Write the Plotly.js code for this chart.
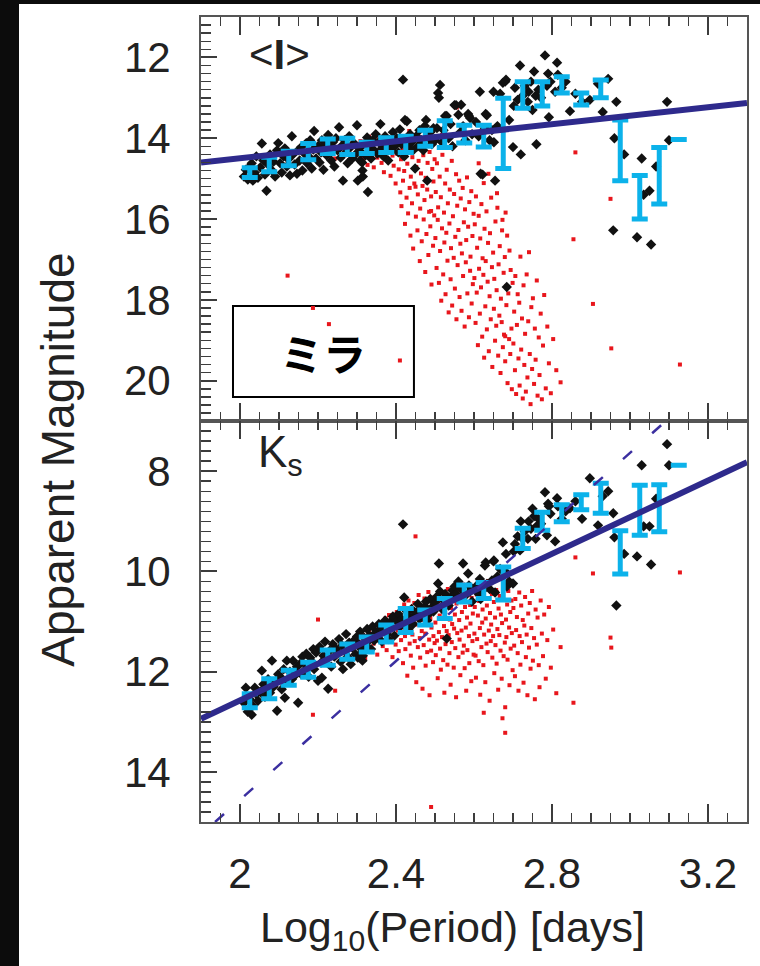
<!DOCTYPE html>
<html><head><meta charset="utf-8">
<script src="https://cdn.plot.ly/plotly-3.0.1.min.js"></script>
<style>
html,body{margin:0;padding:0;background:#0c0c0c;width:760px;height:966px;overflow:hidden}
#chart{position:absolute;left:19px;top:4px;width:741px;height:962px;background:#fff}
</style></head><body><div id="chart"></div>
<script>
// ---- binned means (cyan error bars) ----
const binLogP = [2.025,2.075,2.125,2.175,2.225,2.275,2.325,2.375,2.425,2.475,2.525,2.575,2.625,2.675,2.725,2.775,2.825,2.875,2.925,2.975,3.025,3.075,3.125];
const binI    = [14.85,14.65,14.50,14.33,14.20,14.20,14.24,14.17,14.15,14.00,13.90,13.90,13.95,13.88,12.93,12.90,12.68,13.03,12.78,14.30,15.46,14.93,14.03];
const binIerr = [0.12,0.18,0.18,0.20,0.18,0.20,0.14,0.18,0.20,0.20,0.33,0.22,0.27,0.87,0.33,0.30,0.20,0.15,0.22,0.75,0.54,0.70,0];
const binK    = [12.58,12.34,12.12,11.96,11.72,11.60,11.46,11.24,10.98,10.92,10.74,10.44,10.38,10.24,9.34,9.00,8.84,8.62,8.54,9.62,8.78,8.74,7.88];
const binKerr = [0.14,0.20,0.15,0.15,0.15,0.15,0.15,0.17,0.24,0.15,0.20,0.17,0.16,0.33,0.20,0.18,0.17,0.15,0.30,0.43,0.50,0.47,0];

// ---- fitted relations ----
const fitLogP = [1.9, 3.3];
const fitI    = [14.60, 13.13];
const fitK    = [12.94, 7.82];
const steepLogP = [1.936, 3.2];
const steepK    = [15.0, 6.25];

// ---- black stars ----
const blackLogP = [2.010,2.015,2.020,2.025,2.030,2.033,2.038,2.042,2.046,2.052,
 2.056,2.060,2.064,2.068,2.072,2.077,2.082,2.086,2.090,2.095,
 2.098,2.103,2.107,2.112,2.115,2.120,2.124,2.128,2.133,2.136,
 2.140,2.146,2.149,2.153,2.157,2.160,2.165,2.170,2.172,2.176,
 2.180,2.184,2.188,2.190,2.195,2.200,2.204,2.208,2.210,2.214,
 2.218,2.222,2.226,2.230,2.234,2.238,2.242,2.246,2.250,2.254,
 2.258,2.262,2.264,2.268,2.272,2.276,2.280,2.284,2.288,2.292,
 2.296,2.300,2.302,2.305,2.308,2.311,2.313,2.314,2.315,2.318,
 2.322,2.326,2.328,2.332,2.336,2.340,2.344,2.348,2.352,2.356,
 2.360,2.364,2.368,2.372,2.376,2.380,2.384,2.388,2.392,2.396,
 2.402,2.406,2.410,2.414,2.418,2.421,2.423,2.428,2.432,2.436,
 2.440,2.444,2.449,2.452,2.456,2.460,2.465,2.470,2.474,2.477,
 2.480,2.484,2.488,2.492,2.496,2.500,2.505,2.508,2.510,2.513,
 2.518,2.522,2.526,2.530,2.535,2.540,2.545,2.550,2.554,2.560,
 2.565,2.567,2.572,2.578,2.585,2.587,2.590,2.595,2.605,2.612,
 2.615,2.617,2.622,2.628,2.630,2.633,2.640,2.646,2.650,2.651,
 2.654,2.660,2.667,2.674,2.680,2.682,2.684,2.690,2.700,2.702,
 2.705,2.712,2.718,2.720,2.725,2.730,2.738,2.740,2.746,2.750,
 2.754,2.758,2.760,2.765,2.772,2.782,2.787,2.790,2.792,2.796,
 2.808,2.813,2.815,2.825,2.835,2.846,2.860,2.877,2.897,2.918,
 2.930,2.944,2.957,2.960,2.965,2.985,3.018,3.030,3.035,3.050,
 3.054,3.067,3.095,3.100];
const blackI = [14.95,14.78,15.02,14.70,14.62,15.05,14.85,14.45,14.98,14.72,
 14.13,14.55,14.90,15.30,14.65,14.40,14.80,14.58,14.95,14.30,
 14.12,14.62,14.85,14.45,14.25,14.70,14.52,14.92,13.95,14.40,
 14.65,14.88,14.30,14.55,14.22,14.80,14.38,14.12,14.62,14.45,
 14.05,14.75,14.28,13.82,14.50,14.20,14.60,14.35,14.05,14.78,
 14.15,14.42,13.92,14.25,14.55,14.10,14.70,14.00,14.30,13.73,
 14.48,14.18,15.05,14.05,14.35,14.62,13.95,14.22,14.50,14.12,
 14.40,13.68,15.05,14.25,14.55,14.35,14.60,14.80,14.95,14.15,
 14.42,13.98,15.33,14.20,14.50,14.05,14.30,13.90,14.38,14.10,
 13.65,14.25,14.45,13.95,14.18,14.55,14.05,14.30,13.85,14.20,
 14.00,14.35,13.78,14.15,12.55,14.45,13.55,13.58,14.25,13.90,
 14.10,14.30,14.75,13.95,14.20,13.80,14.05,14.30,13.70,13.55,
 15.05,14.00,13.85,14.15,13.75,14.05,13.75,12.88,13.00,12.68,
 14.10,13.80,13.45,13.45,14.00,13.65,14.20,13.18,13.18,13.42,
 13.85,13.17,13.70,14.05,13.40,13.45,13.50,13.90,13.60,13.95,
 12.85,14.88,14.90,13.75,13.40,13.43,14.05,13.80,12.85,14.10,
 15.05,13.70,12.90,12.63,12.60,12.55,17.68,13.55,14.22,13.20,
 12.75,13.05,12.20,14.40,12.95,12.70,13.10,12.85,12.60,13.30,
 12.35,12.95,14.15,12.80,13.00,11.95,12.70,12.40,13.48,12.60,
 12.85,12.13,12.43,12.75,12.60,13.33,12.90,13.10,13.05,12.65,
 13.35,12.53,16.28,14.00,13.10,14.40,16.45,14.50,15.40,15.30,
 16.63,14.70,13.10,14.05];
const blackK = [12.62,12.32,12.80,12.55,12.86,12.68,12.32,12.45,12.58,12.40,
 11.98,12.25,12.50,12.36,12.15,12.42,11.78,12.30,12.20,12.78,
 12.05,12.10,12.35,11.95,12.52,11.78,12.20,12.00,12.15,11.78,
 12.08,11.90,12.62,11.85,12.05,11.70,11.98,11.64,11.90,12.10,
 11.72,11.80,11.55,11.95,11.62,12.18,11.50,11.82,12.12,11.68,
 11.40,11.75,12.34,11.58,11.90,11.45,11.70,11.55,11.62,11.35,
 11.80,11.48,11.95,11.58,11.25,11.70,11.42,11.85,11.52,11.38,
 11.65,11.30,11.72,11.45,11.20,11.55,11.62,11.78,11.68,11.32,
 11.48,11.15,11.40,11.28,11.55,11.10,11.38,11.22,11.30,11.05,
 11.15,11.40,11.18,10.98,11.25,11.35,11.02,11.12,10.90,11.28,
 11.00,10.85,11.10,10.95,9.06,10.52,11.05,10.80,11.15,10.92,
 10.75,11.05,10.88,10.82,10.65,10.95,10.78,10.90,10.70,10.60,
 10.98,10.85,10.55,10.72,10.80,10.62,10.50,10.24,9.84,10.40,
 10.75,10.58,10.45,11.34,10.68,10.52,10.38,10.30,10.45,10.20,
 10.55,10.35,9.84,10.48,10.04,10.28,10.40,10.60,10.30,10.45,
 10.15,10.55,10.38,9.88,9.82,10.25,10.35,10.18,9.80,9.78,
 10.42,10.10,9.95,9.42,10.00,9.65,10.30,10.20,10.24,9.60,
 9.45,9.30,9.58,9.00,9.35,9.20,9.35,9.00,9.15,8.75,
 8.90,9.35,9.10,8.95,9.05,8.42,9.28,8.65,8.70,8.85,
 9.40,8.54,8.70,8.95,8.80,8.74,8.60,8.95,8.14,9.08,
 8.50,8.40,8.84,9.32,10.68,9.65,9.70,7.88,9.10,9.10,
 9.86,8.55,7.46,7.88];

// ---- red stars ----
const redLogP = [
 2.304,2.309,2.316,2.321,2.327,2.331,2.336,2.339,2.343,2.347,2.352,2.355,2.358,2.363,2.366,2.369,2.373,2.376,2.379,2.382,2.386,2.388,2.391,2.394,2.397,2.399,2.402,2.405,2.407,2.411,
 2.413,2.414,2.417,2.418,2.421,2.423,2.424,2.427,2.429,2.431,2.432,2.435,2.437,2.438,2.441,2.442,2.444,2.447,2.448,2.451,2.452,2.455,2.456,2.458,2.461,2.462,2.464,2.466,2.468,2.470,2.471,2.473,2.475,2.476,2.478,2.480,2.481,2.483,2.485,2.486,2.488,2.490,2.491,2.493,2.495,2.496,2.498,2.499,2.434,2.457,
 2.501,2.502,2.504,2.505,2.507,2.508,2.510,2.512,2.513,2.515,
 2.516,2.518,2.519,2.521,2.523,2.524,2.526,2.527,2.529,2.530,
 2.532,2.533,2.535,2.537,2.538,2.540,2.541,2.543,2.544,2.546,
 2.548,2.549,2.551,2.552,2.554,2.555,2.557,2.558,2.560,2.562,
 2.563,2.565,2.566,2.568,2.569,2.571,2.572,2.574,2.576,2.577,
 2.579,2.580,2.582,2.583,2.585,2.587,2.588,2.590,2.591,2.593,
 2.594,2.596,2.597,2.599,2.529,2.556,2.573,2.518,2.588,2.545,
 2.601,2.602,2.604,2.605,2.607,2.608,2.610,2.612,2.613,2.615,
 2.616,2.618,2.619,2.621,2.622,2.624,2.626,2.627,2.629,2.630,
 2.632,2.633,2.635,2.636,2.638,2.640,2.641,2.643,2.644,2.646,
 2.647,2.649,2.651,2.652,2.654,2.655,2.657,2.658,2.660,2.662,
 2.663,2.665,2.666,2.668,2.669,2.671,2.672,2.674,2.676,2.677,
 2.679,2.680,2.682,2.683,2.685,2.686,2.688,2.690,2.691,2.693,
 2.694,2.696,2.697,2.699,2.612,2.637,2.659,2.681,2.625,2.673,
 2.701,2.703,2.705,2.706,2.708,2.710,2.712,2.714,2.716,2.717,
 2.719,2.721,2.723,2.725,2.727,2.729,2.731,2.733,2.735,2.737,
 2.739,2.741,2.743,2.745,2.747,2.749,2.751,2.754,2.756,2.758,
 2.761,2.763,2.766,2.768,2.771,2.774,2.777,2.780,2.784,2.788,
 2.792,2.797,2.803,2.811,2.822,
 2.122,2.187,2.200,2.228,2.244,2.410,2.450,2.490,2.680,2.855,2.860,2.905,2.950,2.952,3.128];
const redI = [
 14.32,14.07,14.51,14.18,14.66,13.96,14.41,14.23,14.72,14.12,14.48,14.03,14.29,14.61,14.17,14.84,14.36,14.09,14.55,14.27,14.93,14.14,14.43,14.68,14.21,15.12,14.38,14.06,14.77,15.34,
 14.52,15.68,14.26,15.05,14.81,16.12,14.39,15.47,14.63,15.86,14.18,15.23,16.41,14.95,15.61,14.47,16.73,15.12,14.29,15.94,14.71,16.28,15.39,14.56,17.04,15.74,14.87,16.55,15.18,14.42,16.01,15.53,17.31,14.98,16.37,15.27,14.61,16.89,15.82,14.34,16.18,15.44,17.62,14.76,16.66,15.07,15.91,14.52,13.82,13.91,
 16.47,15.33,17.21,14.62,16.02,15.71,17.58,14.95,16.79,15.46,
 18.02,16.23,14.41,17.37,15.84,16.58,15.12,17.86,16.34,14.78,
 17.03,15.61,18.31,16.11,15.27,17.49,16.72,14.56,18.14,15.93,
 16.96,15.38,17.72,16.44,14.89,18.48,15.67,17.14,16.27,15.05,
 17.93,16.61,15.49,18.27,16.85,15.23,17.41,16.08,18.66,15.76,
 17.07,16.52,14.97,17.84,16.19,18.43,15.58,17.28,16.93,15.31,
 18.09,16.42,17.61,15.87,13.58,13.24,13.67,13.92,13.41,14.18,
 17.46,16.13,18.57,15.44,17.82,16.71,19.12,15.92,17.23,18.34,
 16.48,17.69,15.63,18.91,16.97,17.38,19.43,16.24,18.16,17.04,
 15.81,18.73,17.55,16.59,19.27,17.91,16.35,18.48,15.47,17.19,
 19.66,16.83,18.22,17.48,19.01,16.06,18.64,17.76,15.72,19.38,
 17.12,18.39,16.67,19.81,17.97,18.55,16.28,19.17,17.33,18.86,
 16.94,19.52,17.67,18.13,16.41,20.06,17.84,18.97,16.78,19.34,
 17.26,18.71,20.21,17.58,14.62,14.88,15.36,15.84,15.11,16.02,
 19.08,18.29,19.74,17.41,20.33,18.62,17.86,19.45,18.07,20.12,
 16.93,19.23,18.46,20.44,17.64,19.61,18.84,20.27,17.37,19.92,
 18.53,16.82,19.34,20.58,18.18,19.71,17.96,20.08,18.71,19.48,
 17.52,20.37,18.93,19.86,18.34,20.46,19.13,17.88,20.19,18.66,
 19.57,20.31,18.97,19.74,20.04,
 17.40,18.20,14.60,18.60,14.50,19.50,15.20,15.80,18.90,16.50,14.35,18.10,15.50,19.20,19.60];
const redK = [
 11.41,11.62,11.28,11.73,11.35,11.19,11.52,11.08,11.44,11.31,11.66,11.14,11.38,11.02,11.49,11.23,10.94,11.57,11.11,10.87,11.36,11.04,11.71,10.92,11.27,11.46,10.81,11.18,11.59,10.98,
 11.37,10.74,11.12,11.83,10.66,11.29,11.55,10.91,12.08,11.17,10.58,11.44,11.01,11.68,10.79,11.26,11.92,10.63,11.39,11.06,12.21,10.86,11.51,10.47,11.33,11.72,10.97,11.19,12.34,10.72,11.47,10.54,11.24,11.88,10.83,11.61,11.07,10.41,11.36,12.47,10.93,11.58,11.12,10.68,11.81,11.29,10.52,11.43,11.05,10.84,
 11.02,11.67,10.76,11.38,12.13,10.59,11.21,10.88,11.54,11.96,
 10.67,11.31,10.43,11.77,11.09,12.42,10.82,11.45,10.61,11.19,
 11.86,10.35,11.27,11.63,10.96,12.26,10.73,11.41,11.05,10.49,
 11.92,11.14,10.86,11.53,12.51,10.64,11.23,10.38,11.71,10.97,
 11.36,12.07,10.55,11.18,10.81,11.62,10.26,11.48,11.93,10.71,
 11.12,12.38,10.92,11.57,10.44,11.29,11.83,10.67,11.04,12.19,
 10.53,11.39,10.84,11.66,10.62,10.41,10.55,10.77,10.33,10.58,
 11.24,10.71,11.68,12.12,10.46,11.35,10.88,11.79,10.59,11.13,
 12.46,10.32,11.51,11.02,10.76,11.87,11.26,10.53,12.21,10.94,
 11.44,10.68,11.61,10.27,11.18,12.58,10.83,11.39,11.06,10.45,
 11.72,11.29,10.61,12.03,10.92,11.47,10.37,11.84,11.15,12.36,
 10.74,11.27,10.49,11.58,10.86,12.14,11.03,10.57,11.69,10.21,
 11.42,12.71,10.96,11.31,10.66,11.76,10.39,11.12,12.27,10.81,
 11.54,10.58,11.23,11.97,10.52,10.19,10.42,10.07,12.82,12.93,
 10.73,11.48,12.09,10.55,11.17,10.91,11.63,12.38,10.42,11.29,
 11.86,10.68,11.41,10.97,12.22,11.08,10.51,11.71,11.26,12.47,
 10.84,11.52,10.63,11.94,11.13,10.39,11.78,11.33,12.55,10.76,
 11.46,10.92,11.87,12.31,10.58,11.24,11.69,10.86,12.14,11.37,
 10.71,11.92,11.16,12.43,11.51,
 12.00,12.86,10.96,11.60,12.38,11.20,9.30,14.70,13.22,12.62,9.72,10.04,11.32,11.52,10.02];

// ---- tick labels / text ----
const topTicks = [12,14,16,18,20];
const bottomTicks = [8,10,12,14];
const xTicks = [2,2.4,2.8,3.2];
const xTickText = ['2','2.4','2.8','3.2'];

const FONT = 'Liberation Sans, Arial, Helvetica, sans-serif';
const FIT = '#2e2a8c';
const CYAN = '#0cb2ea';
const TICK = '#3c3c3c';
const AXLINE = '#555555';

function xAx(anchor, showLabels) {
  return {
    anchor: anchor, range: [1.9, 3.3], showgrid: false, zeroline: false,
    showline: true, linecolor: AXLINE, linewidth: 2, mirror: 'allticks',
    ticks: 'inside', ticklen: 18, tickwidth: 2, tickcolor: TICK,
    tickmode: 'array', tickvals: xTicks, ticktext: xTickText,
    showticklabels: showLabels, ticklabelstandoff: 14,
    tickfont: {family: FONT, size: 42, color: '#222'},
    minor: {dtick: 0.05, tick0: 2, ticks: 'inside', ticklen: 9, tickwidth: 1.5, tickcolor: TICK, showgrid: false}
  };
}
function yAx(anchor, domain, range, vals) {
  return {
    anchor: anchor, domain: domain, range: range, showgrid: false, zeroline: false,
    showline: true, linecolor: AXLINE, linewidth: 2, mirror: true,
    ticks: 'inside', ticklen: 16, tickwidth: 2, tickcolor: TICK,
    tickmode: 'array', tickvals: vals, ticklabelstandoff: 20,
    tickfont: {family: FONT, size: 42, color: '#222'},
    minor: {dtick: 0.2, tick0: 0, ticks: 'inside', ticklen: 10, tickwidth: 1.5, tickcolor: TICK, showgrid: false}
  };
}

const traces = [
  {x: redLogP, y: redI, xaxis: 'x', yaxis: 'y', mode: 'markers', type: 'scatter',
   marker: {symbol: 'square', size: 4, color: '#e8161c'}},
  {x: redLogP, y: redK, xaxis: 'x2', yaxis: 'y2', mode: 'markers', type: 'scatter',
   marker: {symbol: 'square', size: 4, color: '#e8161c'}},
  {x: blackLogP, y: blackI, xaxis: 'x', yaxis: 'y', mode: 'markers', type: 'scatter',
   marker: {symbol: 'diamond', size: 8, color: '#111'}},
  {x: blackLogP, y: blackK, xaxis: 'x2', yaxis: 'y2', mode: 'markers', type: 'scatter',
   marker: {symbol: 'diamond', size: 8, color: '#111'}},
  {x: binLogP, y: binI, xaxis: 'x', yaxis: 'y', mode: 'markers', type: 'scatter',
   marker: {size: 1, color: CYAN},
   error_y: {type: 'data', array: binIerr, visible: true, color: CYAN, thickness: 5, width: 8}},
  {x: binLogP, y: binK, xaxis: 'x2', yaxis: 'y2', mode: 'markers', type: 'scatter',
   marker: {size: 1, color: CYAN},
   error_y: {type: 'data', array: binKerr, visible: true, color: CYAN, thickness: 5, width: 8}},
  {x: fitLogP, y: fitI, xaxis: 'x', yaxis: 'y', mode: 'lines', type: 'scatter',
   line: {color: FIT, width: 6}},
  {x: fitLogP, y: fitK, xaxis: 'x2', yaxis: 'y2', mode: 'lines', type: 'scatter',
   line: {color: FIT, width: 6}},
  {x: steepLogP, y: steepK, xaxis: 'x2', yaxis: 'y2', mode: 'lines', type: 'scatter',
   line: {color: '#3b2fa0', width: 2.5, dash: '12px,27px'}}
];

const layout = {
  width: 741, height: 962,
  margin: {l: 182, r: 13, t: 13, b: 144},
  paper_bgcolor: '#ffffff', plot_bgcolor: '#ffffff',
  showlegend: false,
  font: {family: FONT, color: '#222'},
  xaxis: xAx('y', false),
  xaxis2: Object.assign(xAx('y2', true), {matches: 'x'}),
  yaxis: yAx('x', [0.498, 1], [21, 11], topTicks),
  yaxis2: yAx('x2', [0, 0.498], [15, 7], bottomTicks),
  shapes: [
    {type: 'rect', xref: 'paper', yref: 'paper', x0: 0.0586, x1: 0.390, y0: 0.528, y1: 0.641,
     line: {color: '#000', width: 2}, fillcolor: 'rgba(0,0,0,0)', layer: 'below'}
  ],
  annotations: [
    {xref: 'paper', yref: 'paper', x: -0.262, y: 0.45, text: 'Apparent Magnitude', textangle: -90,
     showarrow: false, xanchor: 'center', yanchor: 'middle', font: {family: FONT, size: 46, color: '#222'}},
    {xref: 'paper', yref: 'paper', x: 0.4615, y: -0.134, text: 'Log<sub>10</sub>(Period) [days]',
     showarrow: false, xanchor: 'center', yanchor: 'middle', font: {family: FONT, size: 43, color: '#222'}},
    {xref: 'paper', yref: 'paper', x: 0.143, y: 0.954, text: '&lt;<b>I</b>&gt;',
     showarrow: false, xanchor: 'center', yanchor: 'middle', font: {family: FONT, size: 42, color: '#222'}},
    {xref: 'paper', yref: 'paper', x: 0.1465, y: 0.456, text: 'K<sub>s</sub>',
     showarrow: false, xanchor: 'center', yanchor: 'middle', font: {family: FONT, size: 44, color: '#222'}},
    {xref: 'paper', yref: 'paper', x: 0.2234, y: 0.584, text: '<b>ミラ</b>',
     showarrow: false, xanchor: 'center', yanchor: 'middle', font: {family: 'Noto Sans CJK JP, sans-serif', size: 43, color: '#000'}}
  ]
};

Plotly.newPlot('chart', traces, layout, {staticPlot: true, displayModeBar: false});
</script></body></html>
